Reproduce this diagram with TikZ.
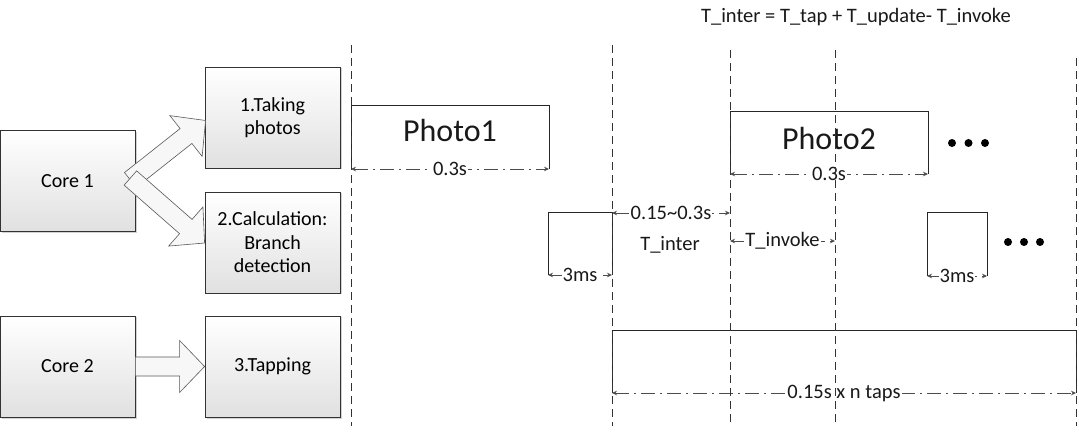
\documentclass[tikz,border=0pt]{standalone}
\usepackage{fontspec}
\setmainfont{Carlito}
\usetikzlibrary{calc,arrows.meta,shadows}
\newcommand\blockarrow[3]{%
  \coordinate (ba) at (#1); \coordinate (bt) at (#2);
  \coordinate (bh) at ($(bt)!#3!(ba)$);
  \draw[blk] ($(ba)!9.5pt!90:(bt)$) -- ($(bh)!9.5pt!90:(bt)$) -- ($(bh)!26pt!90:(bt)$) -- (bt)
    -- ($(bh)!26pt!-90:(bt)$) -- ($(bh)!9.5pt!-90:(bt)$) -- ($(ba)!9.5pt!-90:(bt)$) -- cycle;
}
\begin{document}
\begin{tikzpicture}[x=1pt,y=-1pt,
  box/.style={draw=black!80, line width=0.8pt, top color=white, bottom color=black!12,
    minimum width=135pt, minimum height=101pt, inner sep=0pt, align=center,
    font=\fontsize{20}{23.5}\selectfont,
    drop shadow={shadow xshift=1.5pt,shadow yshift=-1.5pt,opacity=0.35,fill=black!50}},
  blk/.style={draw=black!65, line width=0.6pt, fill=black!3},
  vline/.style={draw=black!80, line width=0.8pt, dash pattern=on 8pt off 5pt},
  edge/.style={draw=black!85, line width=0.8pt},
  dim/.style={draw=black!70, line width=0.8pt, dash pattern=on 14pt off 5pt on 2pt off 5pt,
    {Stealth[length=5pt,width=4.5pt]}-{Stealth[length=5pt,width=4.5pt]}},
  lbl/.style={fill=white, inner sep=1pt, text=black!90, font=\fontsize{20.5}{22}\selectfont},
  txt/.style={font=\fontsize{20.5}{22}\selectfont, inner sep=0pt, text=black!90},
  big/.style={font=\fontsize{32}{36}\selectfont, inner sep=0pt, text=black!90},
  dot/.style={fill=black, draw=none}
]
\useasboundingbox (0,0) rectangle (1079,438);
\fill[white] (0,0) rectangle (1079,438);

% left boxes
\node[box] (c1) at (67.5,181) {Core 1};
\node[box] (n1) at (272.5,117.5) {1.Taking\\photos};
\node[box] (n2) at (272.5,242.5) {2.Calculation:\\Branch\\detection};
\node[box] (c2) at (67.5,366.5) {Core 2};
\node[box] (n3) at (272.5,366.5) {3.Tapping};

\blockarrow{$(c1.east)+(-5,-1)$}{$(n1.west)+(1,3)$}{25pt}
\blockarrow{$(c1.east)+(-5,-3)$}{$(n2.west)+(0,0.5)$}{25pt}
\blockarrow{c2.east}{n3.west}{25pt}

% formula
\node[txt] (formula) at (856,17) {T\_inter = T\_tap + T\_update- T\_invoke};

% Photo1
\coordinate (p1a) at (351,169); \coordinate (p1b) at (549,169);
\draw[edge] (p1a) -- (351,105) -- (549,105) -- (p1b);
\node[big] (photo1) at (450,131) {Photo1};
\draw[dim] (p1a) -- node[lbl] (d1) {0.3s} (p1b);

% first 3ms
\coordinate (s1a) at (548,275); \coordinate (s1b) at (612,275);
\draw[edge] (s1a) -- (548,212) -- (612,212) -- (s1b);
\draw[dim] (s1a) -- node[lbl] (d2) {3ms} (s1b);

% T_inter
\coordinate (ia) at (612,213); \coordinate (ib) at (730,213);
\draw[dim] (ia) -- node[lbl] (d3) {0.15\textasciitilde0.3s} (ib);
\node[txt] (tinter) at (670,245) {T\_inter};

% T_invoke
\coordinate (ka) at (730,241); \coordinate (kb) at (835,241);
\draw[dim] (ka) -- node[lbl] (d4) {T\_invoke} (kb);

% Photo2
\coordinate (p2a) at (730,174); \coordinate (p2b) at (928,174);
\draw[edge] (p2a) -- (730,111) -- (928,111) -- (p2b);
\node[big] (photo2) at (829,139) {Photo2};
\draw[dim] (p2a) -- node[lbl] (d5) {0.3s} (p2b);
\fill[dot] (952,143) circle (4) (968.5,143) circle (4) (985,143) circle (4);

% second 3ms
\coordinate (s2a) at (927,276); \coordinate (s2b) at (987,276);
\draw[edge] (s2a) -- (927,212) -- (987,212) -- (s2b);
\draw[dim] (s2a) -- node[lbl] (d6) {3ms} (s2b);
\fill[dot] (1008,242) circle (4) (1024,242) circle (4) (1040,242) circle (4);

% tapping
\coordinate (ta) at (612,393); \coordinate (tb) at (1076,393);
\draw[edge] (ta) -- (612,330) -- (1076,330) -- (tb);
\draw[dim] (ta) -- node[lbl] (d7) {0.15s x n taps} (tb);

% dashed verticals
\draw[vline] (351,45) -- (351,426);
\draw[vline] (612,45) -- (612,426);
\draw[vline] (730,50) -- (730,426);
\draw[vline] (835,50) -- (835,426);
\draw[vline] (1076,58) -- (1076,426);
\end{tikzpicture}
\end{document}
